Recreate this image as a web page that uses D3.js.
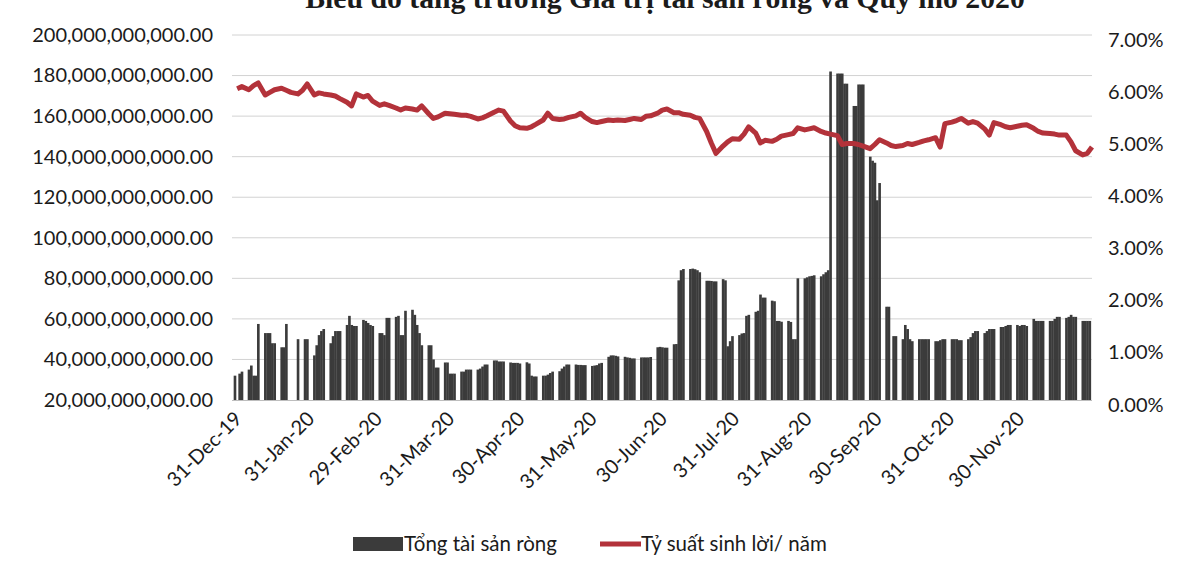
<!DOCTYPE html>
<html>
<head>
<meta charset="utf-8">
<script src="https://cdnjs.cloudflare.com/ajax/libs/d3/7.8.5/d3.min.js"></script>
<style>
  body { margin: 0; background: #fff; }
  text { font-family: Lato, "Open Sans", sans-serif; fill: #1b1b1b; }
</style>
</head>
<body>
<svg id="chart" width="1180" height="572"></svg>
<script>
// weeks start on monday 30-Dec-2019, 5 trading days per week (Mon..Fri), null = no bar
var firstMonday = new Date(2019, 11, 30);

// Tong tai san rong, billions VND, 5 values per week
var navBillions = [
  null, 32, null, 33, 34,
  35, 37, 32, 32, 57.5,
  53, 53, 53, 48, 48,
  46, 46, 57.5, null, null,
  50, null, null, 50, 50,
  42, 47, 52, 54, 55,
  48, 51.5, 54, 54, 54,
  57, 61.5, 57, 56.5, 56.5,
  59.5, 59, 58, 57, 56.5,
  53, 53, 52, 60.5, 60.5,
  61, 61.5, 52, 52, 64,
  64.5, 62, 57, 53, 47,
  47, 47, 40, 36, 36,
  38.5, 38.5, 33, 33, 33,
  34, 34, 35, 35, 35,
  35, 35.5, 36.5, 37.5, 37.5,
  39.5, 39.5, 39, 39, 39,
  38.5, 38.3, 38.3, 38.3, 38,
  38.6, 38, 32, 31.6, 31.6,
  32, 32, 32.5, 33.3, 34,
  34.2, 35.5, 36.5, 37.5, 37.5,
  37.5, 37.3, 37.3, 37.2, 37.2,
  36.8, 37, 37.2, 38, 38.3,
  41.3, 42, 42, 41.8, 41.5,
  41.3, 41, 40.8, 40.5, 40.5,
  41, 41, 41, 41, 41.2,
  46, 46.2, 46, 45.8, 45.8,
  47.5, 47.6, 79, 84, 84.6,
  84.6, 84.8, 84.5, 84, 83,
  78.8, 78.8, 78.7, 78.5, 78.5,
  79.6, 79, 46.5, 49, 51.5,
  52, 52.8, 53, 61.5, 62,
  63.5, 64, 72, 70.5, 70.5,
  69, 68.7, 59, 59, 58.6,
  59, 58.5, 50, 50, 80,
  80, 80.5, 81, 81.2, 81.5,
  81, 82, 83, 84, 182,
  181, 181, 181, 176, 176,
  165, 165, 175.6, 175.6, 175.6,
  140, 138, 137, 118.5, 127,
  66, 66, null, 51.5, 51.5,
  50, 57, 55, 50, 49,
  50, 50, 50, 50, 50,
  49, 49, 49.5, 50, 50,
  50, 50, 50, 49.5, 49.5,
  50, 51, 53, 54, 54,
  53, 54, 55, 55, 55,
  56, 56, 56.5, 57, 57,
  57, 56.5, 57, 57, 56.5,
  60, 59, 59, 59, 59,
  59, 59, 60, 61, 61,
  60.5, 61, 62, 61, 61,
  59, 59, 59, 59, null
];

// Ty suat sinh loi / nam, percent, Mon / Wed / Fri of each week
var yieldPct = [
  null, 5.97, 6.01,
  5.95, 6.03, 6.08,
  5.85, 5.9, 5.95,
  5.98, 5.94, 5.9,
  5.87, 5.94, 6.06,
  5.85, 5.89, 5.87,
  5.85, 5.83, 5.78,
  5.71, 5.64, 5.87,
  5.81, 5.84, 5.73,
  5.65, 5.68, 5.65,
  5.6, 5.56, 5.6,
  5.58, 5.56, 5.64,
  5.49, 5.4, 5.43,
  5.5, 5.49, 5.48,
  5.46, 5.46, 5.44,
  5.39, 5.41, 5.45,
  5.52, 5.56, 5.54,
  5.35, 5.26, 5.22,
  5.21, 5.24, 5.29,
  5.37, 5.5, 5.4,
  5.38, 5.39, 5.42,
  5.45, 5.5, 5.42,
  5.34, 5.32, 5.34,
  5.37, 5.36, 5.37,
  5.36, 5.38, 5.4,
  5.38, 5.44, 5.45,
  5.5, 5.56, 5.58,
  5.51, 5.51, 5.48,
  5.46, 5.42, 5.4,
  5.15, 4.93, 4.73,
  4.87, 4.95, 5.01,
  5.0, 5.1, 5.24,
  5.12, 4.93, 4.98,
  4.96, 5.0, 5.06,
  5.09, 5.11, 5.22,
  5.18, 5.2, 5.22,
  5.15, 5.12, 5.1,
  5.07, 4.9, 4.92,
  4.92, 4.9, 4.87,
  4.82, 4.9, 4.99,
  4.93, 4.88, 4.86,
  4.88, 4.92, 4.9,
  4.94, 4.97, 4.99,
  5.03, 4.85, 5.3,
  5.33, 5.36, 5.4,
  5.31, 5.34, 5.31,
  5.2, 5.08, 5.32,
  5.28, 5.24, 5.22,
  5.25, 5.27, 5.28,
  5.21, 5.15, 5.12,
  5.11, 5.1, 5.08,
  5.08, 4.95, 4.78,
  4.7, 4.73, 4.85
];

var monthTicks = ["2019-12-31", "2020-01-31", "2020-02-29", "2020-03-31", "2020-04-30", "2020-05-31",
                  "2020-06-30", "2020-07-31", "2020-08-31", "2020-09-30", "2020-10-31", "2020-11-30"];
var leftTicks = [20, 40, 60, 80, 100, 120, 140, 160, 180, 200];   // billions
var rightTicks = [0, 1, 2, 3, 4, 5, 6, 7];                        // percent

var title = "Biểu đồ tăng trưởng Giá trị tài sản ròng và Quy mô 2020";
var legendNames = ["Tổng tài sản ròng", "Tỷ suất sinh lời/ năm"];

var barColor = "#3b3b3b", lineColor = "#b3323a";

var svg = d3.select("#chart");

var x = d3.scaleTime()
    .domain([new Date(2019, 11, 30), new Date(2021, 0, 1)])
    .range([232.5, 1092]);
var yL = d3.scaleLinear().domain([20e9, 200e9]).range([400, 35]);
var yR = d3.scaleLinear().domain([0, 0.07]).range([400, 35]);

var parse = d3.timeParse("%Y-%m-%d");

// build rows from the week arrays
var bars = [];
navBillions.forEach(function(v, i) {
    if (v == null) return;
    var d = d3.timeDay.offset(firstMonday, Math.floor(i / 5) * 7 + i % 5);
    bars.push({date: d, value: v * 1e9});
});
var pts = [];
yieldPct.forEach(function(v, i) {
    if (v == null) return;
    var d = d3.timeDay.offset(firstMonday, Math.floor(i / 3) * 7 + (i % 3) * 2);
    pts.push({date: d, value: v / 100});
});

// gridlines
svg.append("g").selectAll("line")
    .data(leftTicks.slice(1))
    .enter().append("line")
    .attr("x1", 232).attr("x2", 1092)
    .attr("y1", function(d) { return yL(d * 1e9); })
    .attr("y2", function(d) { return yL(d * 1e9); })
    .attr("stroke", "#d2d2d2").attr("stroke-width", 1);

svg.append("line")
    .attr("x1", 232).attr("x2", 1092)
    .attr("y1", 400.5).attr("y2", 400.5)
    .attr("stroke", "#bdbdbd");

// bars
var slot = x(new Date(2020, 0, 2)) - x(new Date(2020, 0, 1));
svg.append("g").selectAll("rect")
    .data(bars)
    .enter().append("rect")
    .attr("x", function(d) { return x(d.date) - slot / 2; })
    .attr("width", slot + 0.3)
    .attr("y", function(d) { return yL(d.value); })
    .attr("height", function(d) { return yL(20e9) - yL(d.value); })
    .attr("fill", barColor);

// yield line
var line = d3.line()
    .x(function(d) { return x(d.date); })
    .y(function(d) { return yR(d.value); });
svg.append("path")
    .datum(pts)
    .attr("d", line)
    .attr("fill", "none")
    .attr("stroke", lineColor)
    .attr("stroke-width", 5)
    .attr("stroke-linejoin", "round");

// axes
var axL = svg.append("g").attr("transform", "translate(232,0)")
    .call(d3.axisLeft(yL).tickValues(leftTicks.map(function(d) { return d * 1e9; }))
        .tickFormat(d3.format(",.2f")).tickSize(0).tickPadding(19));
var axR = svg.append("g").attr("transform", "translate(1092,0)")
    .call(d3.axisRight(yR).tickValues(rightTicks.map(function(d) { return d / 100; }))
        .tickFormat(d3.format(".2%")).tickSize(0).tickPadding(16));
var axB = svg.append("g").attr("transform", "translate(0,400)")
    .call(d3.axisBottom(x).tickValues(monthTicks.map(parse))
        .tickFormat(d3.timeFormat("%d-%b-%y")).tickSize(0));
[axL, axR, axB].forEach(function(a) {
    a.select(".domain").remove();
    a.selectAll("text").style("font-family", "Lato, 'Open Sans', sans-serif")
        .style("font-size", "20px").attr("fill", "#1b1b1b");
});
axR.selectAll("text").attr("dy", "0.55em");
axB.selectAll("text")
    .attr("y", 0).attr("x", 0).attr("dy", "0.35em")
    .attr("text-anchor", "end")
    .attr("transform", "translate(3,15) rotate(-45)");

// title (cut at top of the picture)
var t = svg.append("text")
    .attr("x", 665).attr("y", 8)
    .attr("text-anchor", "middle")
    .style("font-family", "'Liberation Serif', 'DejaVu Serif', serif")
    .style("font-weight", "bold").style("font-size", "26px")
    .text(title);
var w = t.node().getComputedTextLength();
t.style("font-size", (26 * 720 / w) + "px");

// legend
var lg = svg.append("g");
lg.append("rect").attr("x", 353).attr("y", 537).attr("width", 50).attr("height", 14).attr("fill", barColor);
lg.append("text").attr("x", 404).attr("y", 551).style("font-size", "20.5px").text(legendNames[0]);
lg.append("line").attr("x1", 600).attr("x2", 641).attr("y1", 544).attr("y2", 544)
    .attr("stroke", lineColor).attr("stroke-width", 5);
lg.append("text").attr("x", 641).attr("y", 551).style("font-size", "20.5px").text(legendNames[1]);
</script>
</body>
</html>
